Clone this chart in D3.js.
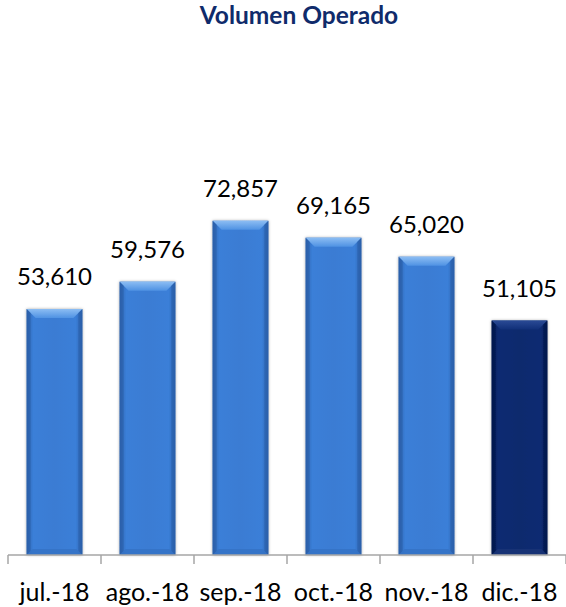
<!DOCTYPE html>
<html>
<head>
<meta charset="utf-8">
<script src="https://cdn.jsdelivr.net/npm/d3@7"></script>
<style>
  html, body { margin: 0; padding: 0; background: #ffffff; }
  svg { display: block; }
  text { font-family: Lato, "Open Sans", sans-serif; }
</style>
</head>
<body>
<svg id="chart" width="566" height="607"></svg>
<script>
const categories = ["jul.-18", "ago.-18", "sep.-18", "oct.-18", "nov.-18", "dic.-18"];
const values = [53610, 59576, 72857, 69165, 65020, 51105];
const valueLabels = ["53,610", "59,576", "72,857", "69,165", "65,020", "51,105"];
const highlighted = ["dic.-18"];
const title = "Volumen Operado";

const W = 566, H = 607;
const svg = d3.select("#chart");

const x = d3.scaleBand().domain(categories).range([8, 566]).paddingInner(0.4).paddingOuter(0.2);
const y = d3.scaleLinear().domain([0, 80000]).range([555, 188]);

const defs = svg.append("defs");
function hGrad(id, edge, mid, mid2) {
  const g = defs.append("linearGradient").attr("id", id).attr("x1", "0").attr("x2", "1").attr("y1", "0").attr("y2", "0");
  [[0, edge], [0.12, mid], [0.5, mid2], [0.88, mid], [1, edge]].forEach(([o, c]) =>
    g.append("stop").attr("offset", o).attr("stop-color", c));
}
hGrad("blueH", "#2c63ae", "#3b7fd8", "#3a7cd3");
hGrad("navyH", "#021a52", "#0a2b72", "#0a296d");
function vGrad(id, c1, c2) {
  const g = defs.append("linearGradient").attr("id", id).attr("x1", "0").attr("x2", "0").attr("y1", "0").attr("y2", "1");
  g.append("stop").attr("offset", 0).attr("stop-color", c1);
  g.append("stop").attr("offset", 1).attr("stop-color", c2);
}
vGrad("blueTop", "#8cbdf3", "#4f92e3");
vGrad("navyTop", "#2a4a95", "#102f78");
const f = defs.append("filter").attr("id", "shadow").attr("x", "-20%").attr("y", "-10%").attr("width", "140%").attr("height", "120%");
f.append("feDropShadow").attr("dx", 0).attr("dy", 0).attr("stdDeviation", 1.6).attr("flood-color", "#000").attr("flood-opacity", 0.35);

// Title
svg.append("text")
  .attr("x", 299).attr("y", 24)
  .attr("text-anchor", "middle")
  .attr("font-size", 24.5).attr("font-weight", "bold")
  .attr("fill", "#0f2b6b")
  .text(title);

// Bars
const bars = svg.append("g").selectAll("g").data(categories).join("g");
const bw = x.bandwidth();
const bev = 9;
bars.each(function(c, i) {
  const g = d3.select(this);
  const isH = highlighted.includes(c);
  const x0 = x(c), y0 = y(values[i]), h = y(0) - y(values[i]);
  g.append("rect")
    .attr("x", x0).attr("y", y0).attr("width", bw).attr("height", h)
    .attr("fill", isH ? "url(#navyH)" : "url(#blueH)")
    .attr("filter", "url(#shadow)");
  // top bevel
  g.append("polygon")
    .attr("points", [[x0, y0], [x0 + bw, y0], [x0 + bw - bev, y0 + bev], [x0 + bev, y0 + bev]].map(p => p.join(",")).join(" "))
    .attr("fill", isH ? "url(#navyTop)" : "url(#blueTop)");
  // side bevels
  g.append("polygon")
    .attr("points", [[x0, y0], [x0 + 4, y0 + 4], [x0 + 4, y0 + h - 4], [x0, y0 + h]].map(p => p.join(",")).join(" "))
    .attr("fill", isH ? "#011649" : "#2a5ea6").attr("opacity", 0.6);
  g.append("polygon")
    .attr("points", [[x0 + bw, y0], [x0 + bw - 4, y0 + 4], [x0 + bw - 4, y0 + h - 4], [x0 + bw, y0 + h]].map(p => p.join(",")).join(" "))
    .attr("fill", isH ? "#011649" : "#2a5ea6").attr("opacity", 0.6);
  // bottom bevel
  g.append("polygon")
    .attr("points", [[x0, y0 + h], [x0 + bw, y0 + h], [x0 + bw - 6, y0 + h - 6], [x0 + 6, y0 + h - 6]].map(p => p.join(",")).join(" "))
    .attr("fill", isH ? "#1a3577" : "#3572c4").attr("opacity", 0.8);
});

// Value labels
svg.append("g").selectAll("text").data(categories).join("text")
  .attr("x", c => x(c) + bw / 2)
  .attr("y", (c, i) => y(values[i]) - 24)
  .attr("text-anchor", "middle")
  .attr("font-size", 24)
  .attr("fill", "#000")
  .text((c, i) => valueLabels[i]);

// Axis
const axisY = y(0);
const gap = (x.step() - bw) / 2;
const boundaries = categories.map(c => x(c) - gap).concat([x(categories[categories.length - 1]) + bw + gap]);
const axis = svg.append("g");
axis.append("line")
  .attr("x1", boundaries[0]).attr("x2", boundaries[boundaries.length - 1])
  .attr("y1", axisY).attr("y2", axisY)
  .attr("stroke", "#a6a6a6").attr("stroke-width", 1.5);
axis.selectAll("line.tick").data(boundaries).join("line").attr("class", "tick")
  .attr("x1", d => d).attr("x2", d => d)
  .attr("y1", axisY).attr("y2", axisY + 9)
  .attr("stroke", "#a6a6a6").attr("stroke-width", 1.5);
axis.selectAll("text").data(categories).join("text")
  .attr("x", c => x(c) + bw / 2)
  .attr("y", 601)
  .attr("text-anchor", "middle")
  .attr("font-size", 25)
  .attr("fill", "#000")
  .text(c => c);
</script>
</body>
</html>
